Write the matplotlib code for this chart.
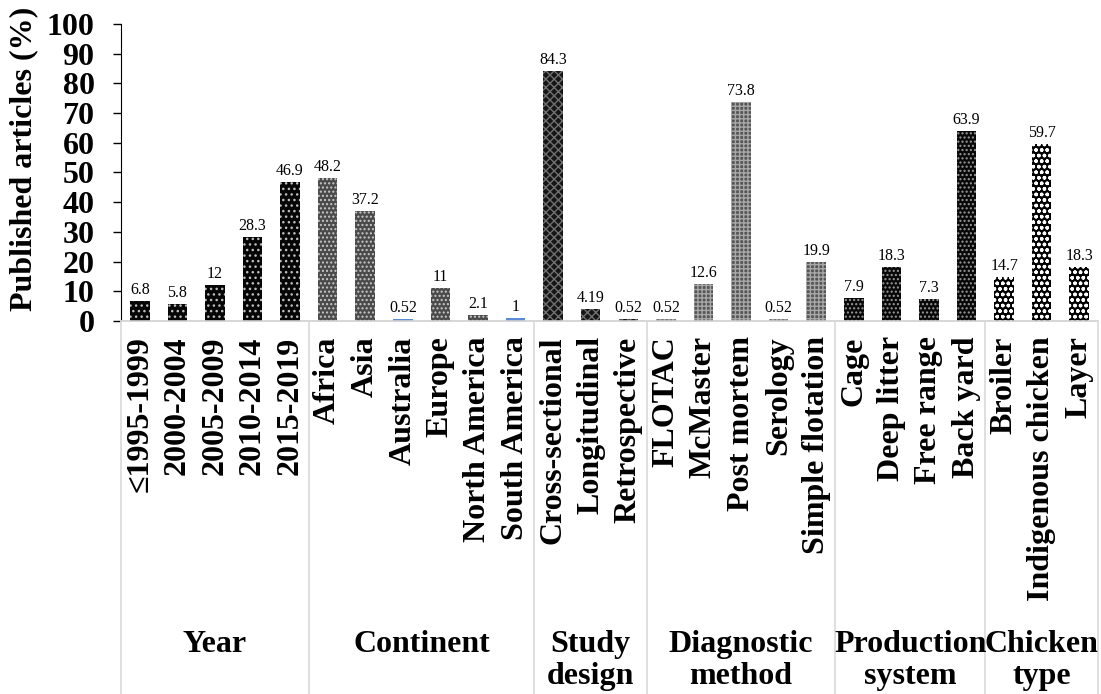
import matplotlib
matplotlib.use("Agg")
import matplotlib.pyplot as plt
from matplotlib.lines import Line2D
import matplotlib.transforms as mtransforms

# ---- data -------------------------------------------------------------
year_labels = ["≤1995-1999", "2000-2004", "2005-2009", "2010-2014", "2015-2019"]
year_values = [6.8, 5.8, 12, 28.3, 46.9]

continent_labels = ["Africa", "Asia", "Australia", "Europe", "North America", "South America"]
continent_values = [48.2, 37.2, 0.52, 11, 2.1, 1]

design_labels = ["Cross-sectional", "Longitudinal", "Retrospective"]
design_values = [84.3, 4.19, 0.52]

method_labels = ["FLOTAC", "McMaster", "Post mortem", "Serology", "Simple flotation"]
method_values = [0.52, 12.6, 73.8, 0.52, 19.9]

system_labels = ["Cage", "Deep litter", "Free range", "Back yard"]
system_values = [7.9, 18.3, 7.3, 63.9]

chicken_labels = ["Broiler", "Indigenous chicken", "Layer"]
chicken_values = [14.7, 59.7, 18.3]

group_titles = ["Year", "Continent", "Study\ndesign", "Diagnostic\nmethod",
                "Production\nsystem", "Chicken\ntype"]

groups = [
    (year_labels, year_values),
    (continent_labels, continent_values),
    (design_labels, design_values),
    (method_labels, method_values),
    (system_labels, system_values),
    (chicken_labels, chicken_values),
]

# fill style per group: (face, hatch, hatch colour)
group_styles = [
    ("#050505", "...", "#bfbfbf"),
    ("#4a4a4a", "....", "#c8c8c8"),
    ("#151515", "xxxx", "#707070"),
    ("#555555", "++++", "#a8a8a8"),
    ("#080808", "....", "#9a9a9a"),
    ("#000000", "ooo", "#ffffff"),
]
blue_bars = {"Australia", "South America"}
blue = "#5b8ad6"

# ---- figure -----------------------------------------------------------
plt.rcParams["hatch.linewidth"] = 1.0
serif = ["Liberation Serif", "DejaVu Serif"]
big = 23

fig = plt.figure(figsize=(11.01, 6.94), dpi=100)
ax = fig.add_axes([0.1099, 0.5375, 0.8874, 0.4279])

labels_all = []
pos = 0
bounds = [0]
centers = []
for (labs, vals), (face, hatch, hcol) in zip(groups, group_styles):
    start = pos
    for lab, val in zip(labs, vals):
        if lab in blue_bars:
            ax.bar(pos, val, width=0.52, color=blue, linewidth=0)
        else:
            ax.bar(pos, val, width=0.52, facecolor=face, hatch=hatch,
                   edgecolor=hcol, linewidth=0)
        ax.text(pos, val + 1.0, f"{val:g}", ha="center", va="bottom",
                fontsize=11.5, family=serif)
        labels_all.append(lab)
        pos += 1
    bounds.append(pos)
    centers.append((start + pos - 1) / 2)

n = len(labels_all)
ax.set_xlim(-0.5, n - 0.5)
ax.set_ylim(0, 100)
ax.set_yticks(range(0, 101, 10))
ax.set_xticks(range(n))
ax.set_xticklabels(labels_all, rotation=90, ha="center", va="top",
                   fontsize=big, fontweight="bold", family=serif)
for t in ax.get_yticklabels():
    t.set_fontsize(big)
    t.set_fontweight("bold")
    t.set_family(serif)
ax.tick_params(axis="x", length=0, pad=11)
ax.tick_params(axis="y", direction="out", length=6, width=1, pad=13)

for s in ["top", "right"]:
    ax.spines[s].set_visible(False)
ax.spines["left"].set_color("black")
ax.spines["bottom"].set_color("#d0d0d0")
ax.spines["bottom"].set_linewidth(1.2)

ax.set_ylabel("Published articles (%)", fontsize=big, fontweight="bold",
              family=serif)
ax.yaxis.set_label_coords(-0.085, 0.545)

# category separators running below the axis
trans = mtransforms.blended_transform_factory(ax.transData, fig.transFigure)
y_axis_fig = 0.5375
for b in bounds:
    fig.add_artist(Line2D([b - 0.5, b - 0.5], [0, y_axis_fig], transform=trans,
                          color="#d9d9d9", linewidth=1.2))

for c, title in zip(centers, group_titles):
    fig.text(c, 1 - 630 / 694, title, transform=trans, ha="center", va="top",
             fontsize=big, fontweight="bold", family=serif, linespacing=1.12)

fig.savefig("out.png", dpi=100)
